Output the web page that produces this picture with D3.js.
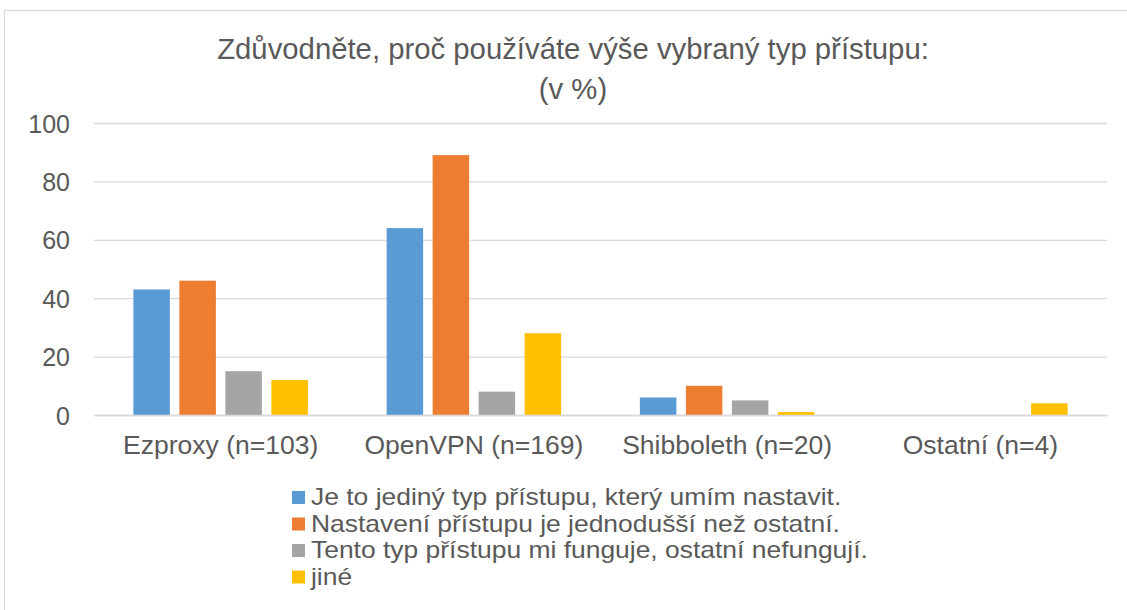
<!DOCTYPE html>
<html>
<head>
<meta charset="utf-8">
<script src="https://cdn.jsdelivr.net/npm/d3@7"></script>
<style>
  html, body { margin: 0; padding: 0; background: #fff; }
  svg { display: block; }
  text { font-family: "Liberation Sans", Arial, sans-serif; fill: #595959; }
</style>
</head>
<body>
<svg id="chart" width="1127" height="610"></svg>
<script>
const categories = ["Ezproxy (n=103)", "OpenVPN (n=169)", "Shibboleth (n=20)", "Ostatní (n=4)"];
const seriesNames = [
  "Je to jediný typ přístupu, který umím nastavit.",
  "Nastavení přístupu je jednodušší než ostatní.",
  "Tento typ přístupu mi funguje, ostatní nefungují.",
  "jiné"
];
const seriesOnly = [43, 64, 6, 0];
const seriesEasier = [46, 89, 10, 0];
const seriesWorks = [15, 8, 5, 0];
const seriesOther = [12, 28, 1, 4];
const yTicks = [0, 20, 40, 60, 80, 100];
const colors = ["#5B9BD5", "#ED7D31", "#A5A5A5", "#FFC000"];
const titleLines = ["Zdůvodněte, proč používáte výše vybraný typ přístupu:", "(v %)"];

const allSeries = [seriesOnly, seriesEasier, seriesWorks, seriesOther];

const svg = d3.select("#chart");
const W = 1127, H = 610;

// chart border
svg.append("rect")
  .attr("x", 4.5).attr("y", 10.5)
  .attr("width", W + 10).attr("height", H + 10)
  .attr("fill", "none").attr("stroke", "#D9D9D9").attr("stroke-width", 1.3);

const plot = { left: 94, right: 1107, top: 123, bottom: 415 };

const x0 = d3.scaleBand().domain(categories).range([plot.left, plot.right]).paddingInner(0).paddingOuter(0);
const x1 = d3.scaleBand().domain(d3.range(4)).range([0, x0.bandwidth()]).paddingInner(0.2065).paddingOuter(0.856);
const y = d3.scaleLinear().domain([0, 100]).range([plot.bottom, plot.top]);

// title
svg.append("g").selectAll("text").data(titleLines).join("text")
  .attr("x", 573)
  .attr("y", (d, i) => 48 + i * 40)
  .attr("text-anchor", "middle")
  .attr("dominant-baseline", "central")
  .style("font-size", "29.3px")
  .text(d => d);

// grid lines via axis
const yAxis = d3.axisLeft(y).tickValues(yTicks).tickSize(-(plot.right - plot.left)).tickPadding(24).tickFormat(d3.format("d"));
const gy = svg.append("g").attr("transform", `translate(${plot.left},0)`).call(yAxis);
gy.select(".domain").remove();
gy.selectAll(".tick line").attr("stroke", "#D9D9D9").attr("stroke-width", 1.3);
gy.selectAll(".tick text").style("font-size", "25px").attr("fill", "#595959").attr("dy", "0.36em");

// bars
const groups = svg.append("g").selectAll("g").data(categories).join("g")
  .attr("transform", d => `translate(${x0(d)},0)`);
groups.selectAll("rect")
  .data((c, ci) => allSeries.map((s, si) => ({ si, v: s[ci] })))
  .join("rect")
  .attr("x", d => x1(d.si))
  .attr("width", x1.bandwidth())
  .attr("y", d => y(d.v))
  .attr("height", d => y(0) - y(d.v))
  .attr("fill", d => colors[d.si]);

// x axis
const xAxis = d3.axisBottom(x0).tickSize(0).tickPadding(20);
const gx = svg.append("g").attr("transform", `translate(0,${plot.bottom})`).call(xAxis);
gx.select(".domain").attr("stroke", "#D9D9D9").attr("stroke-width", 1.3);
gx.selectAll(".tick text").style("font-size", "26.5px").attr("fill", "#595959");

// legend
const legend = svg.append("g").attr("transform", "translate(292,0)");
const items = legend.selectAll("g").data(seriesNames).join("g")
  .attr("transform", (d, i) => `translate(0,${497.5 + i * 26.5})`);
items.append("rect").attr("x", 0).attr("y", -6.5).attr("width", 13).attr("height", 13)
  .attr("fill", (d, i) => colors[i]);
items.append("text")
  .attr("transform", "translate(19,0) scale(1.15,1)")
  .attr("dominant-baseline", "central")
  .style("font-size", "23px").text(d => d);
</script>
</body>
</html>
